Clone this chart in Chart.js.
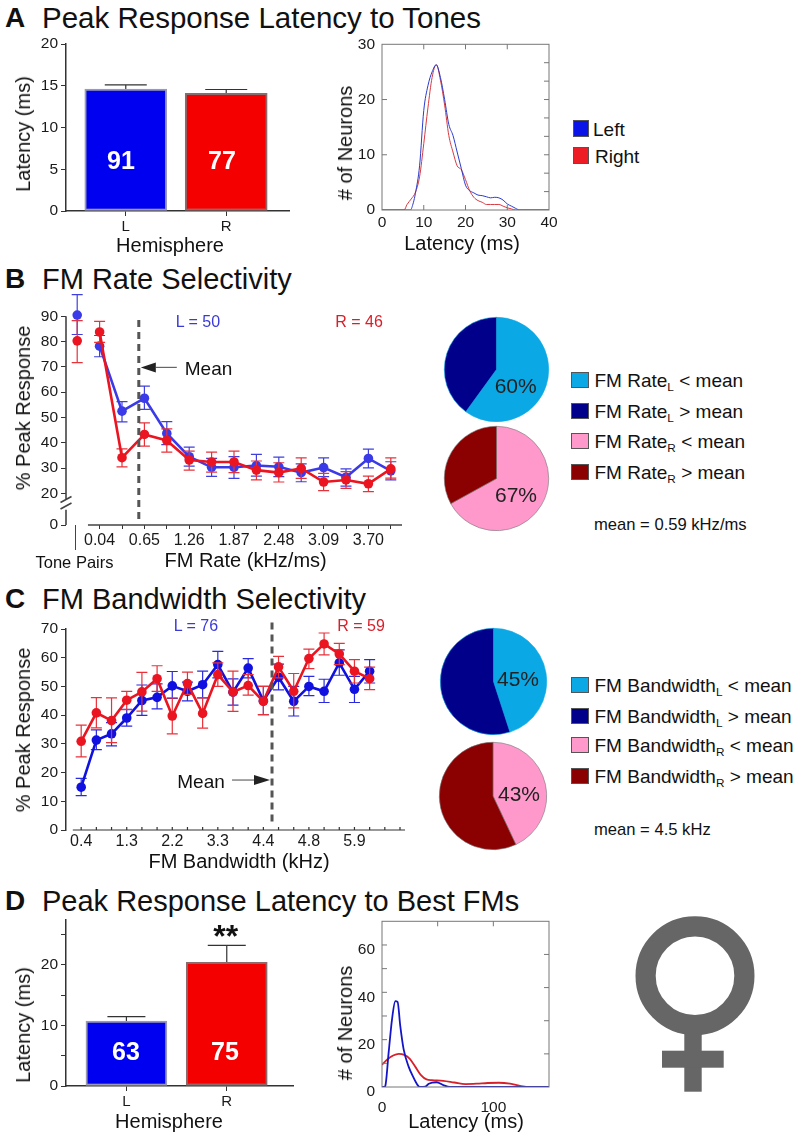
<!DOCTYPE html>
<html>
<head>
<meta charset="utf-8">
<title>Peak response latency and FM selectivity</title>
<script src="https://cdn.jsdelivr.net/npm/chart.js@4"></script>
<style>
html, body { margin: 0; padding: 0; background: #fff; }
#page { position: relative; width: 800px; height: 1136px; overflow: hidden; font-family: "Liberation Sans", Arial, sans-serif; color: #111; }
#page canvas { position: absolute; }
.txt { position: absolute; white-space: nowrap; line-height: 1; }
.txt sub { font-size: 0.62em; line-height: 0; position: relative; top: 0.32em; vertical-align: baseline; }
.swatch { position: absolute; box-sizing: border-box; border: 1px solid #555; }
</style>
</head>
<body>
<div id="page"></div>
<script>
// Panel A bars
const hemispheres = ['L', 'R'];
const tonesLatency = [14.6, 14.1];
const tonesLatencyErr = [15.1, 14.55];
// Panel A histogram curves
const tonesBinsLeft = [0, 6.8, 7.5, 8, 9, 10, 11, 12, 13, 14, 15, 16, 17, 18, 19, 20, 21, 22, 23, 24, 25, 26, 27, 28, 29, 30, 31, 32, 33, 40];
const tonesCountLeft = [0, 0, 1.3, 3, 8, 18, 22.5, 25, 26.3, 24, 20, 15.5, 13.5, 10.5, 7.5, 4.5, 3.5, 3.1, 2.7, 2.6, 2.4, 2.2, 2.3, 2.2, 1.8, 1.1, 0.7, 0.3, 0, 0];
const tonesBinsRight = [0, 5.3, 6, 7, 8, 9, 10, 11, 12, 13, 14, 15, 16, 17, 18, 19, 20, 21, 22, 23, 24, 25, 26, 27, 28, 29, 30, 31, 32, 40];
const tonesCountRight = [0, 0, 1, 2, 3.2, 6, 12, 18.5, 24, 26.3, 23.5, 19, 13.5, 10.5, 8, 7.3, 5.5, 3.5, 2.3, 1.7, 1.4, 1, 1, 1, 1, 0.7, 0.4, 0.2, 0, 0];

// Panel B: first entry is the tone pairs point
const rateLabels = ['', '0.04', '', '0.65', '', '1.26', '', '1.87', '', '2.48', '', '3.09', '', '3.70', ''];
const rateLeft = [90.5, 78.2, 52.5, 57.6, 43.7, 34.5, 30.3, 30.3, 31, 30.5, 28.2, 30.2, 26.4, 33.8, 28.9];
const rateLeftTop = [98.6, 82.4, 56.3, 62.4, 48.4, 38.3, 33.8, 34.5, 35.4, 34.3, 31.7, 34, 29.7, 37.5, 32.5];
const rateLeftBottom = [82.8, 74, 48.3, 53.2, 39.3, 30.8, 26.7, 25.9, 26.8, 26.6, 24.6, 26.6, 22.9, 30.1, 25.3];
const rateRight = [80.3, 83.8, 34.1, 43.3, 40.9, 33.2, 32.4, 32.4, 29.2, 28.2, 29.9, 24.5, 25.3, 23.8, 29.7];
const rateRightTop = [88.3, 88, 37.6, 47.9, 45.5, 36.7, 36.3, 36.7, 32.8, 32.1, 34, 27.9, 28.6, 26.8, 34];
const rateRightBottom = [71.7, 79.7, 30.5, 38.7, 36.3, 29.2, 28.4, 28.2, 25.3, 24.5, 25.9, 21.1, 22, 20.7, 26];
const rateTicks = [20, 30, 40, 50, 60, 70, 80, 90];
const ratePieLeft = [60, 40];
const ratePieRight = [67, 33];

// Panel C: first and last categories are empty axis space
const bandLabels = ['', '0.4', '', '', '1.3', '', '', '2.2', '', '', '3.3', '', '', '4.4', '', '', '4.8', '', '', '5.9', '', '', ''];
const bandLeft = [14.9, 31.3, 33.5, 39, 45.1, 46.2, 50.2, 48.3, 50.6, 57.6, 48, 56.4, 45, 53.2, 44.8, 50, 48.3, 58.2, 49, 55.3];
const bandLeftTop = [18, 34.9, 37.4, 42, 50.5, 50.9, 55.2, 51.5, 55.3, 62.2, 52.6, 59.7, 50, 57.8, 50, 53.5, 52.5, 62.7, 53.5, 59.3];
const bandLeftBottom = [12, 28, 29.3, 36.2, 39.9, 42.2, 45.8, 45, 46, 53, 43.5, 53, 40.2, 48.8, 39.7, 46.8, 44.4, 53.9, 44.4, 51.2];
const bandRight = [30.9, 40.8, 38.1, 45.2, 48.1, 52.7, 39.7, 51, 40.6, 54.1, 48.1, 50.3, 44.8, 56.8, 48.3, 59.7, 64.8, 61.3, 55.3, 52.7];
const bandRightTop = [36.5, 46.1, 46, 48.3, 54.9, 57.2, 46, 55, 46, 58.2, 55.3, 54.1, 50, 60.5, 54.5, 63, 68.6, 65, 59.3, 56.7];
const bandRightBottom = [25.5, 35.6, 30.4, 41.9, 41.4, 48.3, 33.5, 47.2, 35.5, 50, 41.3, 47, 40.2, 53, 42.5, 56.2, 61, 57.6, 51.2, 48.9];
const bandPieLeft = [45, 55];
const bandPieRight = [43, 57];

// Panel D bars
const fmLatency = [10.7, 20.4];
const fmLatencyErr = [11.45, 23.2];
// Panel D histogram curves
const fmBinsLeft = [0, 2, 3, 6, 9, 12, 14, 16.4, 19.4, 24, 28, 32, 34, 39, 42, 49, 55, 61, 150];
const fmCountLeft = [0, 0, 0.5, 14.7, 28.6, 36.3, 36, 25.8, 16, 8.5, 4.3, 0.8, 0, 0.2, 1.4, 2, 0.8, 0, 0];
const fmBinsRight = [0, 5, 10, 15, 20, 25, 30, 35, 40, 45, 55, 65, 75, 85, 95, 105, 115, 125, 133, 150];
const fmCountRight = [9.4, 11.7, 13.3, 14, 13.6, 11.9, 8.5, 5, 3.2, 2.9, 2.6, 1.9, 1.25, 1.4, 1.7, 1.8, 1.4, 0.4, 0, 0];

const FONT = '"Liberation Sans", Arial, sans-serif';
const BLUE = '#0000f0';
const RED = '#f40000';
const page = document.getElementById('page');

Chart.defaults.font.family = FONT;
Chart.defaults.color = '#1a1a1a';
Chart.defaults.animation = false;
Chart.defaults.responsive = false;
Chart.defaults.plugins.legend.display = false;
Chart.defaults.plugins.tooltip.enabled = false;

function text(html, x, y, opts = {}) {
    const el = document.createElement('div');
    el.className = 'txt';
    el.innerHTML = html;
    el.style.left = x + 'px';
    el.style.top = y + 'px';
    el.style.fontSize = (opts.size || 20) + 'px';
    if (opts.bold) el.style.fontWeight = 'bold';
    if (opts.color) el.style.color = opts.color;
    if (opts.rotate) el.style.transform = 'translate(-50%,-50%) rotate(-90deg)';
    else el.style.transform = opts.left ? 'translateY(-50%)' : 'translate(-50%,-50%)';
    page.appendChild(el);
}

function swatch(color, x, y, w, h) {
    const el = document.createElement('div');
    el.className = 'swatch';
    el.style.cssText = `left:${x}px;top:${y}px;width:${w}px;height:${h}px;background:${color}`;
    page.appendChild(el);
}

// Puts a chart on the page so that its plot area lands on the given box
function plotAt(box, config) {
    const m = { left: 60, right: 24, top: 14, bottom: 36 };
    const canvas = document.createElement('canvas');
    canvas.width = box.r - box.l + m.left + m.right;
    canvas.height = box.b - box.t + m.top + m.bottom;
    canvas.style.left = (box.l - m.left) + 'px';
    canvas.style.top = (box.t - m.top) + 'px';
    page.appendChild(canvas);
    config.options.layout = { padding: { left: 0, top: m.top, right: m.right, bottom: 0 } };
    config.options.scales.x.afterFit = s => { s.height = m.bottom; };
    config.options.scales.y.afterFit = s => { s.width = m.left; };
    return new Chart(canvas, config);
}

const setTicks = values => axis => { axis.ticks = values.map(value => ({ value })); };

// Error bars come from errTop / errBottom on the dataset
const errorBars = {
    id: 'errorBars',
    beforeDatasetDraw(chart, args) {
        const ds = chart.data.datasets[args.index];
        if (!ds.errTop) return;
        const y = chart.scales.y, ctx = chart.ctx;
        const points = chart.getDatasetMeta(args.index).data;
        ctx.save();
        ctx.lineWidth = ds.errWidth || 1.2;
        points.forEach((pt, i) => {
            const val = ds.errValue ? ds.errValue[i] : ds.data[i];
            if (val === null) return;
            const yVal = v => y.getPixelForValue(v);
            const top = yVal(ds.errTop[i]);
            const bottom = ds.errBottom ? yVal(ds.errBottom[i]) : yVal(val);
            const half = (ds.capWidth || 11) / 2;
            ctx.strokeStyle = Array.isArray(ds.errColor) ? ds.errColor[i] : ds.errColor;
            ctx.beginPath();
            ctx.moveTo(pt.x, top);
            ctx.lineTo(pt.x, bottom);
            ctx.moveTo(pt.x - half, top);
            ctx.lineTo(pt.x + half, top);
            if (ds.errBottom) {
                ctx.moveTo(pt.x - half, bottom);
                ctx.lineTo(pt.x + half, bottom);
            }
            ctx.stroke();
        });
        ctx.restore();
    }
};

// Gray frame with inward ticks on the small histograms
function boxTicks(sides) {
    return {
        id: 'boxTicks',
        afterDraw(chart) {
            const { ctx, chartArea: a, scales } = chart;
            ctx.save();
            ctx.strokeStyle = '#777';
            ctx.lineWidth = 1;
            ctx.strokeRect(a.left, a.top, a.right - a.left, a.bottom - a.top);
            ctx.beginPath();
            (sides.left || []).forEach(v => { const p = scales.y.getPixelForValue(v); ctx.moveTo(a.left, p); ctx.lineTo(a.left + 5, p); });
            (sides.right || []).forEach(v => { const p = scales.y.getPixelForValue(v); ctx.moveTo(a.right, p); ctx.lineTo(a.right - 5, p); });
            (sides.top || []).forEach(v => { const p = scales.x.getPixelForValue(v); ctx.moveTo(p, a.top); ctx.lineTo(p, a.top + 5); });
            (sides.bottom || []).forEach(v => { const p = scales.x.getPixelForValue(v); ctx.moveTo(p, a.bottom); ctx.lineTo(p, a.bottom - 5); });
            ctx.stroke();
            ctx.restore();
        }
    };
}

// Dashed mean line plus the small arrow next to it
function meanMarker(xIndex, yTop, yBottom, arrowAt, tailPx, headPx) {
    return {
        id: 'meanMarker',
        afterDatasetsDraw(chart) {
            const { ctx, scales } = chart;
            const x = scales.x.getPixelForValue(xIndex);
            const ay = scales.y.getPixelForValue(arrowAt);
            ctx.save();
            ctx.strokeStyle = '#555';
            ctx.lineWidth = 3;
            ctx.setLineDash([7, 5]);
            ctx.beginPath();
            ctx.moveTo(x, scales.y.getPixelForValue(yTop));
            ctx.lineTo(x, scales.y.getPixelForValue(yBottom));
            ctx.stroke();
            ctx.setLineDash([]);
            ctx.lineWidth = 1.2;
            ctx.strokeStyle = '#666';
            ctx.beginPath();
            ctx.moveTo(x + tailPx, ay);
            ctx.lineTo(x + headPx, ay);
            ctx.stroke();
            const dir = Math.sign(tailPx);
            ctx.fillStyle = '#222';
            ctx.beginPath();
            ctx.moveTo(x + dir * 2, ay);
            ctx.lineTo(x + headPx, ay - 5);
            ctx.lineTo(x + headPx, ay + 5);
            ctx.closePath();
            ctx.fill();
            ctx.restore();
        }
    };
}

function barPanel(box, values, errs, ticks, labels, range, capWidths, barWidth) {
    plotAt(box, {
        type: 'bar',
        data: {
            datasets: [{
                data: values.map((v, i) => ({ x: i + 1, y: v })),
                backgroundColor: [BLUE, RED],
                borderColor: ['#9a9ab0', '#8a6a6a'],
                borderWidth: 2,
                borderSkipped: false,
                barThickness: barWidth,
                errTop: errs,
                errValue: values,
                errColor: '#333',
                capWidth: capWidths
            }]
        },
        options: {
            scales: {
                x: {
                    type: 'linear', min: range[0], max: range[1], offset: false,
                    grid: { offset: false, drawOnChartArea: false, tickLength: 5, color: '#333' },
                    border: { color: '#333', width: 1.5 },
                    afterBuildTicks: setTicks([1, 2]),
                    ticks: { font: { size: 15 }, padding: 2, callback: v => hemispheres[v - 1] }
                },
                y: {
                    min: 0, max: box.yMax,
                    grid: { drawOnChartArea: false, tickLength: 5, color: '#333' },
                    border: { color: '#333', width: 1.5 },
                    afterBuildTicks: setTicks(ticks),
                    ticks: { font: { size: 15.5 }, padding: 3, callback: v => labels.includes(v) ? v : '' }
                }
            }
        },
        plugins: [errorBars]
    });
}

function histPanel(box, left, right, xMax, xTicks, yMax, yTicks, sides, lineWidth, yLabelShift, xPad, colors) {
    const xy = (xs, ys) => xs.map((x, i) => ({ x, y: ys[i] }));
    plotAt(box, {
        type: 'line',
        data: {
            datasets: [
                { data: xy(left[0], left[1]), borderColor: colors[0], borderWidth: lineWidth, pointRadius: 0, cubicInterpolationMode: 'monotone' },
                { data: xy(right[0], right[1]), borderColor: colors[1], borderWidth: lineWidth, pointRadius: 0, cubicInterpolationMode: 'monotone' }
            ]
        },
        options: {
            scales: {
                x: {
                    type: 'linear', min: 0, max: xMax,
                    grid: { display: false, drawTicks: false },
                    border: { display: false },
                    afterBuildTicks: setTicks(xTicks),
                    ticks: { font: { size: 15.5 }, padding: xPad, maxRotation: 0 }
                },
                y: {
                    min: 0, max: yMax,
                    grid: { display: false, drawTicks: false },
                    border: { display: false },
                    afterBuildTicks: setTicks(yTicks),
                    ticks: { font: { size: 15.5 }, padding: 7, labelOffset: yLabelShift }
                }
            }
        },
        plugins: [boxTicks(sides)]
    });
}

function linePanel(box, labels, series, yOpts, extras, xTickOpts) {
    const datasets = series.map(s => ({
        data: s.values,
        borderColor: s.color,
        backgroundColor: s.color,
        borderWidth: 2.6,
        pointRadius: 4.8,
        pointBorderWidth: 0,
        clip: false,
        spanGaps: false,
        segment: s.skipFirst ? { borderColor: ctx => ctx.p0DataIndex === 0 ? 'transparent' : undefined } : undefined,
        errTop: s.top,
        errBottom: s.bottom,
        errColor: s.errColor,
        errWidth: 1.2,
        capWidth: 11
    }));
    plotAt(box, {
        type: 'line',
        data: { labels, datasets },
        options: {
            scales: {
                x: Object.assign({
                    type: 'category', border: { display: false },
                    ticks: { font: { size: 16 }, autoSkip: false, maxRotation: 0, minRotation: 0, padding: 2 }
                }, xTickOpts),
                y: yOpts
            }
        },
        plugins: [errorBars].concat(extras)
    });
}

function piePanel(cx, cy, r, values, colors, border) {
    const size = Math.round(r * 2 + 2);
    const canvas = document.createElement('canvas');
    canvas.width = size;
    canvas.height = size;
    canvas.style.left = (cx - size / 2) + 'px';
    canvas.style.top = (cy - size / 2) + 'px';
    page.appendChild(canvas);
    new Chart(canvas, {
        type: 'pie',
        data: { datasets: [{ data: values, backgroundColor: colors, borderColor: border, borderWidth: 0.6 }] },
        options: { layout: { padding: 1 } }
    });
}

function legend(rows, mean, meanY) {
    rows.forEach(row => {
        swatch(row.color, 571, row.y - 8, 17.5, 16);
        text(row.label, 594.5, row.y, { size: 19, left: true });
    });
    text(mean, 594, meanY, { size: 16.6, left: true });
}

// Titles
function heading(letter, title, y, size) {
    text(letter, 5, y, { size: 28, bold: true, left: true });
    text(title, 42, y, { size, left: true });
}
heading('A', 'Peak Response Latency to Tones', 18, 29.5);
heading('B', 'FM Rate Selectivity', 279, 29);
heading('C', 'FM Bandwidth Selectivity', 599, 29);
heading('D', 'Peak Response Latency to Best FMs', 901, 29);

// Panel A
barPanel({ l: 66, t: 44, r: 289, b: 211, yMax: 20 }, tonesLatency, tonesLatencyErr,
    [0, 5, 10, 15, 20], [0, 5, 10, 15, 20], [0.405, 2.625], 42, 82);
text('Latency (ms)', 22.7, 134, { rotate: true });
text('Hemisphere', 170, 245);
text('91', 121, 159.5, { size: 25, bold: true, color: '#fff' });
text('77', 222, 159.5, { size: 25, bold: true, color: '#fff' });

histPanel({ l: 382, t: 42, r: 549, b: 210 }, [tonesBinsLeft, tonesCountLeft], [tonesBinsRight, tonesCountRight],
    40, [0, 10, 20, 30, 40], 30, [0, 10, 20, 30],
    { left: [10, 20], right: [3.33, 6.67, 10, 13.33, 16.67, 20, 23.33, 26.67], top: [10, 20, 30], bottom: [10, 20, 30] },
    1, 0, 3, ['#2a3ccc', '#d83a40']);
text('# of Neurons', 344.5, 143, { rotate: true });
text('Latency (ms)', 462, 243);
swatch('#0a14e8', 573, 120, 15.5, 17);
swatch('#ee1c24', 573, 147, 15.5, 16.5);
text('Left', 593, 129, { size: 19, left: true });
text('Right', 595, 156, { size: 19, left: true });

// Panel B
const rateZero = 7.5; // where the 0 tick sits below the axis break
linePanel({ l: 66.4, t: 291.4, r: 402.9, b: 526 }, rateLabels, [
    { values: rateRight, top: rateRightTop, bottom: rateRightBottom, color: '#ea1520', errColor: '#e8323a', skipFirst: true },
    { values: rateLeft, top: rateLeftTop, bottom: rateLeftBottom, color: '#3a3ae8', errColor: '#3f3fe0', skipFirst: true }
], {
    min: rateZero, max: 100,
    grid: { drawOnChartArea: false, tickLength: 5, color: '#333' },
    border: { display: false },
    afterBuildTicks: setTicks([rateZero].concat(rateTicks)),
    ticks: { font: { size: 15.5 }, padding: 3, callback: v => v === rateZero ? '0' : v }
}, [
    meanMarker(2.75, 88.5, 8.5, 69.8, 38, 17),
    {
        id: 'rateAxes',
        afterDraw(chart) {
            const { ctx, scales } = chart;
            const ax = scales.x.left, y = scales.y;
            ctx.save();
            ctx.strokeStyle = '#444';
            ctx.lineWidth = 1.6;
            ctx.beginPath();
            ctx.moveTo(ax, y.getPixelForValue(90));
            ctx.lineTo(ax, y.getPixelForValue(17.5));
            ctx.moveTo(ax, y.getPixelForValue(13.5));
            ctx.lineTo(ax, y.getPixelForValue(rateZero));
            // break marks
            [17.6, 15].forEach(v => {
                const p = y.getPixelForValue(v);
                ctx.moveTo(ax - 5.5, p + 3);
                ctx.lineTo(ax + 5.5, p - 3);
            });
            // x axis starts after the tone pairs point
            ctx.moveTo(scales.x.getPixelForValue(0.48), scales.x.top);
            ctx.lineTo(scales.x.right, scales.x.top);
            ctx.stroke();
            // divider above the Tone Pairs label
            ctx.lineWidth = 1;
            ctx.beginPath();
            ctx.moveTo(75.5 - chart.canvas.offsetLeft, scales.x.top);
            ctx.lineTo(75.5 - chart.canvas.offsetLeft, scales.x.top + 25);
            ctx.stroke();
            ctx.restore();
        }
    }
], {
    offset: true,
    grid: {
        offset: false, drawOnChartArea: false, tickLength: 4,
        tickColor: ctx => ctx.index === 0 ? 'transparent' : '#333'
    }
});
text('% Peak Response', 22.7, 408, { rotate: true });
text('FM Rate (kHz/ms)', 245.6, 560);
text('Tone Pairs', 74.5, 562, { size: 16.5 });
text('L = 50', 198, 321.5, { size: 16, color: '#3a3ad8' });
text('R = 46', 359, 321.5, { size: 16, color: '#d8202a' });
text('Mean', 208.5, 368, { size: 19 });

piePanel(496.3, 369.3, 52.3, ratePieLeft, ['#0aa9e6', '#00008b'], '#0aa9e6');
piePanel(496.3, 478.3, 52.5, ratePieRight, ['#ff99cc', '#8b0000'], '#777');
text('60%', 515.7, 385, { size: 21, color: '#222' });
text('67%', 516, 494, { size: 21, color: '#222' });
legend([
    { color: '#0aa9e6', y: 380, label: 'FM Rate<sub>L</sub> &lt; mean' },
    { color: '#00008b', y: 411, label: 'FM Rate<sub>L</sub> &gt; mean' },
    { color: '#ff99cc', y: 441, label: 'FM Rate<sub>R</sub> &lt; mean' },
    { color: '#8b0000', y: 472, label: 'FM Rate<sub>R</sub> &gt; mean' }
], 'mean = 0.59 kHz/ms', 525);

// Panel C
const bandPoints = vals => [null].concat(vals);
linePanel({ l: 65.8, t: 629.3, r: 400.2, b: 830.7 }, bandLabels, [
    { values: bandPoints(bandRight), top: bandPoints(bandRightTop), bottom: bandPoints(bandRightBottom), color: '#ea1520', errColor: '#e8323a' },
    { values: bandPoints(bandLeft), top: bandPoints(bandLeftTop), bottom: bandPoints(bandLeftBottom), color: '#1010e0', errColor: '#2a2ae0' }
], {
    min: 0, max: 70,
    grid: { drawOnChartArea: false, tickLength: 5, color: '#333' },
    border: { color: '#333', width: 1.5 },
    afterBuildTicks: setTicks([0, 10, 20, 30, 40, 50, 60, 70]),
    ticks: { font: { size: 15.5 }, padding: 3 }
}, [
    meanMarker(13.57, 72.3, 2.2, 17.4, -40, -18),
    {
        id: 'bandAxis',
        afterDraw(chart) {
            const { ctx, scales } = chart;
            const yAxis = scales.x.top;
            ctx.save();
            ctx.strokeStyle = '#333';
            ctx.lineWidth = 1.2;
            ctx.beginPath();
            ctx.moveTo(scales.x.getPixelForValue(0.45), yAxis);
            ctx.lineTo(scales.x.right + 5, yAxis);
            bandLabels.forEach((label, i) => {
                if (i === 0) return;
                const p = scales.x.getPixelForValue(i);
                ctx.moveTo(p, yAxis);
                ctx.lineTo(p, yAxis - 3);
            });
            ctx.stroke();
            ctx.restore();
        }
    }
], {
    grid: { display: false, drawTicks: false }
});
text('% Peak Response', 22.7, 730, { rotate: true });
text('FM Bandwidth (kHz)', 239, 861);
text('L = 76', 196, 625.7, { size: 16, color: '#3a3ad8' });
text('R = 59', 361, 625.7, { size: 16, color: '#d8202a' });
text('Mean', 201, 781, { size: 19 });

piePanel(493.3, 681.7, 53.3, bandPieLeft, ['#0aa9e6', '#00008b'], '#0aa9e6');
piePanel(492.7, 796.3, 54, bandPieRight, ['#ff99cc', '#8b0000'], '#777');
text('45%', 518, 678.3, { size: 21, color: '#222' });
text('43%', 519, 792.7, { size: 21, color: '#222' });
legend([
    { color: '#0aa9e6', y: 685, label: 'FM Bandwidth<sub>L</sub> &lt; mean' },
    { color: '#00008b', y: 716, label: 'FM Bandwidth<sub>L</sub> &gt; mean' },
    { color: '#ff99cc', y: 745, label: 'FM Bandwidth<sub>R</sub> &lt; mean' },
    { color: '#8b0000', y: 776, label: 'FM Bandwidth<sub>R</sub> &gt; mean' }
], 'mean = 4.5 kHz', 830);

// Panel D
barPanel({ l: 65.5, t: 920, r: 292.7, b: 1086, yMax: 27.4 }, fmLatency, fmLatencyErr,
    [0, 5, 10, 15, 20, 25], [0, 10, 20], [0.398, 2.66], 38, 81);
text('Latency (ms)', 22.7, 1025, { rotate: true });
text('Hemisphere', 169, 1120.7);
text('63', 126, 1050.7, { size: 25, bold: true, color: '#fff' });
text('75', 225, 1051, { size: 25, bold: true, color: '#fff' });
text('**', 225.7, 936, { size: 32, bold: true });

histPanel({ l: 382, t: 919, r: 549, b: 1087 }, [fmBinsLeft, fmCountLeft], [fmBinsRight, fmCountRight],
    150, [0, 100], 70, [0, 20, 40, 60],
    { left: [10, 20, 30, 40, 50, 60], right: [14, 28, 42, 56], top: [50, 100] },
    1.8, 5, 11, ['#1414c8', '#d8202a']);
text('# of Neurons', 345, 1023, { rotate: true });
text('Latency (ms)', 466, 1120.7);

// Venus symbol
const svgNS = 'http://www.w3.org/2000/svg';
const venus = document.createElementNS(svgNS, 'svg');
venus.setAttribute('width', 160);
venus.setAttribute('height', 190);
venus.style.cssText = 'position:absolute;left:620px;top:910px';
venus.innerHTML = '<circle cx="75" cy="65.7" r="49.4" fill="none" stroke="#666" stroke-width="20.2"/>' +
    '<rect x="64.3" y="120" width="17.4" height="61.7" fill="#666"/>' +
    '<rect x="42" y="140.7" width="61.7" height="17" fill="#666"/>';
page.appendChild(venus);
</script>
</body>
</html>
